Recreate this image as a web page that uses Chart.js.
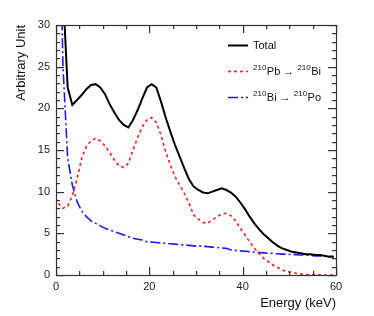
<!DOCTYPE html>
<html>
<head>
<meta charset="utf-8">
<script src="https://cdn.jsdelivr.net/npm/chart.js@4"></script>
<style>
  html, body { margin: 0; padding: 0; background: #fff; }
  #wrap { width: 374px; height: 316px; }
</style>
</head>
<body>
<div id="wrap"><canvas id="spectrum" width="374" height="316"></canvas></div>
<script>
// bin centres (keV)
const energy = [
    0.5, 1.5, 2.5, 3.5, 4.5, 5.5, 6.5, 7.5, 8.5, 9.5,
    10.5, 11.5, 12.5, 13.5, 14.5, 15.5, 16.5, 17.5, 18.5, 19.5,
    20.5, 21.5, 22.5, 23.5, 24.5, 25.5, 26.5, 27.5, 28.5, 29.5,
    30.5, 31.5, 32.5, 33.5, 34.5, 35.5, 36.5, 37.5, 38.5, 39.5,
    40.5, 41.5, 42.5, 43.5, 44.5, 45.5, 46.5, 47.5, 48.5, 49.5,
    50.5, 51.5, 52.5, 53.5, 54.5, 55.5, 56.5, 57.5, 58.5, 59.5
];

const total = [
    60, 34, 22.5, 20.4, 21.0, 21.6, 22.3, 22.8, 22.9, 22.5,
    21.7, 20.5, 19.5, 18.6, 18.0, 17.7, 18.6, 19.8, 21.2, 22.5,
    22.9, 22.5, 20.8, 18.9, 17.2, 15.6, 14.2, 12.8, 11.5, 10.6,
    10.2, 9.9, 9.8, 10.0, 10.2, 10.4, 10.2, 9.9, 9.4, 8.7,
    7.9, 7.0, 6.2, 5.5, 4.9, 4.4, 3.9, 3.5, 3.2, 3.0,
    2.8, 2.7, 2.6, 2.5, 2.5, 2.4, 2.4, 2.3, 2.2, 2.2
];

const pbToBi = [
    8.6, 8.0, 8.3, 9.5, 11.5, 14.0, 15.4, 16.1, 16.4, 16.1,
    15.5, 14.7, 13.8, 13.1, 12.9, 13.4, 15.0, 16.5, 17.8, 18.6,
    18.9, 18.3, 16.8, 14.8, 13.2, 11.8, 10.8, 9.8, 8.6, 7.2,
    6.7, 6.3, 6.2, 6.6, 7.0, 7.3, 7.4, 7.1, 6.5, 5.6,
    4.8, 4.0, 3.2, 2.6, 2.0, 1.6, 1.2, 0.9, 0.6, 0.4,
    0.3, 0.2, 0.1, 0.05, 0.03, 0.02, 0.01, 0, 0, 0
];

const biToPo = [
    50, 25, 14, 10.8, 8.8, 7.7, 7.0, 6.5, 6.2, 5.9,
    5.6, 5.4, 5.2, 5.0, 4.8, 4.6, 4.4, 4.3, 4.2, 4.0,
    3.95, 3.9, 3.85, 3.8, 3.75, 3.7, 3.65, 3.6, 3.55, 3.5,
    3.5, 3.45, 3.4, 3.35, 3.3, 3.25, 3.2, 3.0, 2.95, 2.9,
    2.85, 2.8, 2.75, 2.7, 2.65, 2.6, 2.6, 2.55, 2.5, 2.5,
    2.45, 2.45, 2.4, 2.4, 2.35, 2.3, 2.3, 2.25, 2.25, 2.2
];

const xTicks = [0, 20, 40, 60];
const yTicks = [0, 5, 10, 15, 20, 25, 30];

const FONT = '"Liberation Sans", Arial, Helvetica, sans-serif';

function points(ys) {
    return energy.map((e, i) => ({ x: e, y: ys[i] }));
}

// ROOT-like frame, inward ticks, axis titles and legend
const rootStyle = {
    id: 'rootStyle',
    afterDraw(chart) {
        const { ctx, chartArea: a } = chart;
        ctx.save();
        ctx.setLineDash([]);
        ctx.fillStyle = '#333';

        // inward ticks as thin filled rects
        for (let v = 0; v <= 60; v += 5) {
            const px = Math.round(a.left + (a.right - a.left) * v / 60);
            const len = v % 20 === 0 ? 8 : 4;
            ctx.fillRect(px, a.bottom - len, 1.2, len);
            ctx.fillRect(px, a.top, 1.2, len);
        }
        for (let v = 0; v <= 30; v += 1) {
            const py = Math.round(a.bottom - (a.bottom - a.top) * v / 30);
            const len = v % 5 === 0 ? 8 : 4;
            ctx.fillRect(a.left, py, len, 1.2);
            ctx.fillRect(a.right - len, py, len, 1.2);
        }

        ctx.strokeStyle = '#333';
        ctx.lineWidth = 1.2;
        ctx.strokeRect(Math.round(a.left) + 0.5, Math.round(a.top) + 0.5,
            Math.round(a.right - a.left), Math.round(a.bottom - a.top));

        // axis titles
        ctx.fillStyle = '#111';
        ctx.font = '13px ' + FONT;
        ctx.textAlign = 'right';
        ctx.textBaseline = 'alphabetic';
        ctx.fillText('Energy (keV)', a.right, 307);

        ctx.save();
        ctx.translate(25, a.top);
        ctx.rotate(-Math.PI / 2);
        ctx.textAlign = 'right';
        ctx.fillText('Arbitrary Unit', 0, 0);
        ctx.restore();

        // legend
        const ds = chart.data.datasets;
        const rows = [
            { d: ds[0], y: 45, parts: [['Total', false]] },
            { d: ds[1], y: 71, parts: [['210', true], ['Pb \u2192 ', false], ['210', true], ['Bi', false]] },
            { d: ds[2], y: 97, parts: [['210', true], ['Bi \u2192 ', false], ['210', true], ['Po', false]] }
        ];
        rows.forEach(r => {
            ctx.save();
            ctx.strokeStyle = r.d.borderColor;
            ctx.lineWidth = r.d.borderWidth;
            ctx.setLineDash(r.d.borderDash || []);
            ctx.beginPath();
            ctx.moveTo(228, r.y + 0.5);
            ctx.lineTo(248, r.y + 0.5);
            ctx.stroke();
            ctx.restore();

            let tx = 253;
            ctx.textAlign = 'left';
            ctx.textBaseline = 'alphabetic';
            ctx.fillStyle = '#111';
            r.parts.forEach(([t, sup]) => {
                ctx.font = (sup ? '8px ' : '11px ') + FONT;
                ctx.fillText(t, tx, sup ? r.y - 1 : r.y + 4);
                tx += ctx.measureText(t).width + (sup ? 0.5 : 0);
            });
        });

        ctx.restore();
    }
};

new Chart(document.getElementById('spectrum'), {
    type: 'line',
    data: {
        datasets: [{
            label: 'Total',
            data: points(total),
            borderColor: '#000000',
            borderWidth: 2,
            pointRadius: 0,
            tension: 0,
            clip: 0
        }, {
            label: '210Pb -> 210Bi',
            data: points(pbToBi),
            borderColor: '#ff1a1a',
            borderWidth: 1.6,
            borderDash: [3, 3],
            pointRadius: 0,
            tension: 0,
            clip: 0
        }, {
            label: '210Bi -> 210Po',
            data: points(biToPo),
            borderColor: '#1a1aff',
            borderWidth: 1.6,
            borderDash: [10, 3, 2, 3],
            pointRadius: 0,
            tension: 0,
            clip: 0
        }]
    },
    options: {
        responsive: false,
        animation: false,
        layout: { padding: { left: 0, right: 38, top: 25, bottom: 0 } },
        plugins: { legend: { display: false }, tooltip: { enabled: false } },
        scales: {
            x: {
                type: 'linear',
                min: 0,
                max: 60,
                grid: { display: false, drawTicks: false },
                border: { display: false },
                afterBuildTicks: s => { s.ticks = xTicks.map(v => ({ value: v })); },
                afterFit: s => { s.height = 41; },
                ticks: { padding: 5, color: '#222', font: { family: FONT, size: 11 }, maxRotation: 0 }
            },
            y: {
                min: 0,
                max: 30,
                grid: { display: false, drawTicks: false },
                border: { display: false },
                afterBuildTicks: s => { s.ticks = yTicks.map(v => ({ value: v })); },
                afterFit: s => { s.width = 56; },
                ticks: { padding: 6, color: '#222', font: { family: FONT, size: 11 } }
            }
        }
    },
    plugins: [rootStyle]
});
</script>
</body>
</html>
